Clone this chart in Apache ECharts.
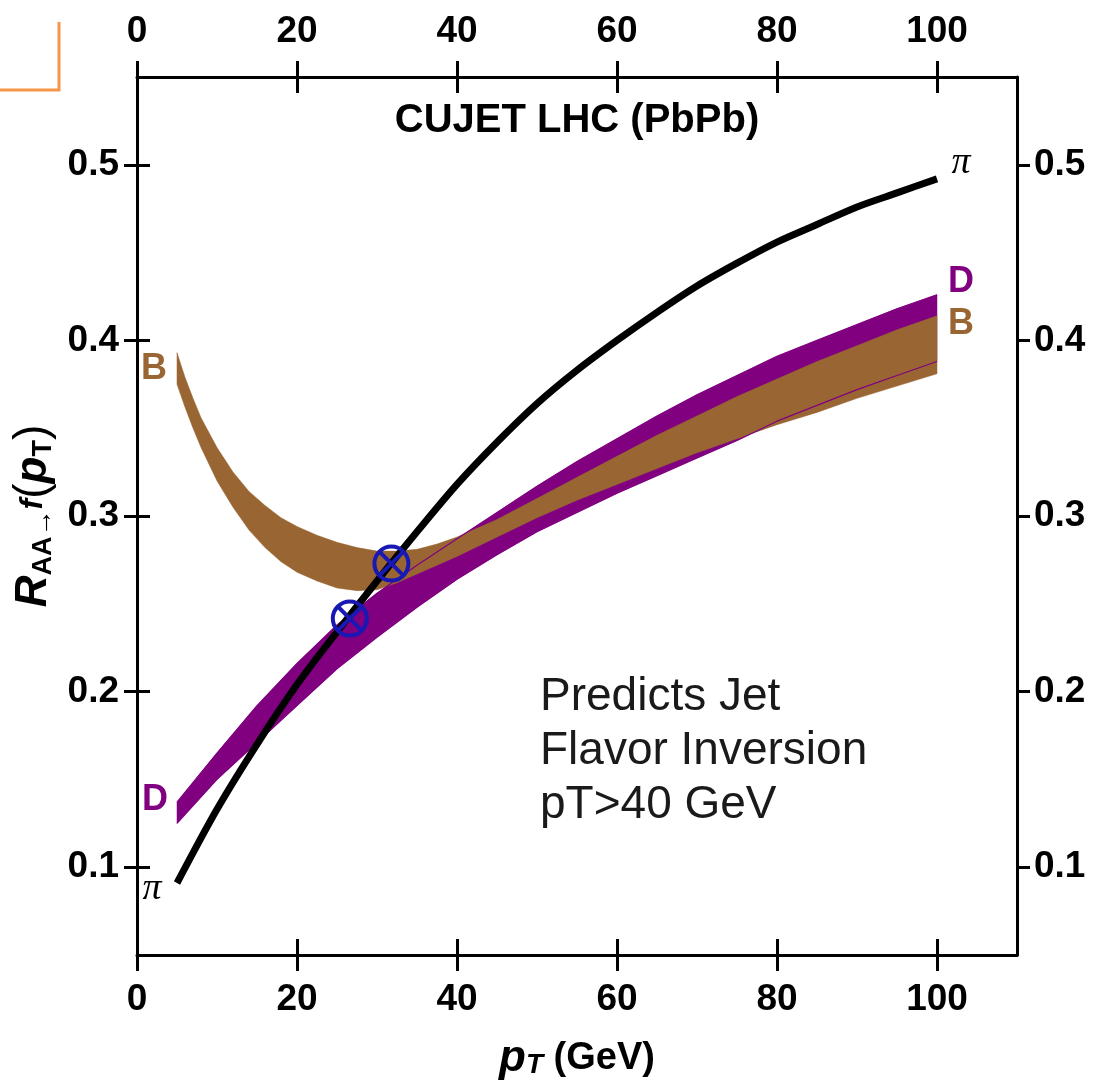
<!DOCTYPE html>
<html><head><meta charset="utf-8">
<script src="https://cdn.jsdelivr.net/npm/echarts@6/dist/echarts.min.js"></script>
<style>html,body{margin:0;padding:0;background:#fff}#c{width:1094px;height:1080px}</style>
</head><body><div id="c"></div>
<script>
// ---- tick labels ----
const xTicks = [0, 20, 40, 60, 80, 100];
const yTicks = [0.1, 0.2, 0.3, 0.4, 0.5];

// ---- pion (black curve) ----
const ptPi  = [5, 10, 15, 20, 25, 30, 35, 40, 45, 50, 55, 60, 65, 70, 75, 80, 85, 90, 95, 100];
const raaPi = [0.091, 0.133, 0.170, 0.204, 0.234, 0.263, 0.291, 0.318, 0.342, 0.364, 0.383, 0.400, 0.416, 0.431, 0.444, 0.456, 0.466, 0.476, 0.484, 0.492];

// ---- D meson band (purple) ----
const ptD    = [5, 10, 15, 20, 25, 30, 35, 40, 45, 50, 55, 60, 65, 70, 75, 80, 85, 90, 95, 100];
const raaDLo = [0.125, 0.150, 0.171, 0.192, 0.213, 0.231, 0.248, 0.264, 0.278, 0.291, 0.302, 0.313, 0.323, 0.333, 0.343, 0.354, 0.363, 0.372, 0.380, 0.388];
const raaDHi = [0.137, 0.165, 0.192, 0.216, 0.238, 0.256, 0.272, 0.287, 0.302, 0.317, 0.331, 0.344, 0.357, 0.369, 0.380, 0.391, 0.400, 0.409, 0.418, 0.426];

// ---- B meson band (brown) ----
const ptB    = [5, 6, 7, 8, 10, 12, 14, 16, 18, 20, 22.5, 25, 27.5, 30, 32.5, 35, 37.5, 40, 45, 50, 55, 60, 65, 70, 75, 80, 85, 90, 95, 100];
const raaBLo = [0.375, 0.362, 0.350, 0.339, 0.320, 0.305, 0.292, 0.282, 0.274, 0.268, 0.263, 0.259, 0.2575, 0.258, 0.262, 0.267, 0.272, 0.277, 0.288, 0.299, 0.309, 0.318, 0.327, 0.336, 0.344, 0.352, 0.359, 0.367, 0.374, 0.381];
const raaBHi = [0.393, 0.379, 0.367, 0.356, 0.339, 0.325, 0.314, 0.306, 0.299, 0.294, 0.289, 0.285, 0.282, 0.280, 0.280, 0.281, 0.284, 0.288, 0.298, 0.310, 0.322, 0.334, 0.346, 0.357, 0.368, 0.378, 0.388, 0.397, 0.406, 0.414];

// ---- flavor-inversion crossing markers ----
const crossPt  = [26.6, 31.8];
const crossRaa = [0.2416, 0.2729];

// ---- texts ----
const titleText = 'CUJET LHC (PbPb)';
const noteText = 'Predicts Jet\nFlavor Inversion\npT>40 GeV';

const PURPLE = '#800080', BROWN = '#996633', BLUE = '#1818b4';
const SANS = '"Liberation Sans", Arial, Helvetica, sans-serif';
const SERIF = '"Liberation Serif", "Times New Roman", serif';

const zip = (a, b) => a.map((v, i) => [v, b[i]]);
const last = a => a[a.length - 1];

// curve-end labels anchored on the data ends
const endLabels = [
  { t: 'π', x: last(ptPi), y: last(raaPi), c: '#000', serif: true, off: [24, -16] },
  { t: 'D', x: last(ptD), y: last(raaDHi), c: PURPLE, off: [24, -13] },
  { t: 'B', x: last(ptB), y: last(raaBHi), c: BROWN, off: [24, 8] },
  { t: 'π', x: ptPi[0], y: raaPi[0], c: '#000', serif: true, off: [-25, 6] },
  { t: 'D', x: ptD[0], y: (raaDLo[0] + raaDHi[0]) / 2, c: PURPLE, off: [-22, -13] },
  { t: 'B', x: ptB[0], y: (raaBLo[0] + raaBHi[0]) / 2, c: BROWN, off: [-23, 1] }
];

const axisLine = { show: true, onZero: false, lineStyle: { color: '#000', width: 3 } };
const lblStyle = { color: '#000', fontSize: 37, fontWeight: 'bold', fontFamily: SANS };

function xAx(pos, grid, inside, withLabel, extra) {
  return Object.assign({
    type: 'value', gridIndex: grid, position: pos, min: 0, max: 110,
    axisLine: grid === 0 ? axisLine : { show: false },
    axisTick: { show: true, inside: inside, length: 16, customValues: xTicks, lineStyle: { color: '#000', width: 3 } },
    axisLabel: withLabel ? Object.assign({ customValues: xTicks, margin: pos === 'top' ? 27 : 26 }, lblStyle) : { show: false },
    splitLine: { show: false }
  }, extra || {});
}
function yAx(pos, grid, inside, withLabel, extra) {
  return Object.assign({
    type: 'value', gridIndex: grid, position: pos, min: 0.05, max: 0.55,
    axisLine: grid === 0 ? axisLine : { show: false },
    axisTick: { show: true, inside: inside, length: 13, customValues: yTicks, lineStyle: { color: '#000', width: 3 } },
    axisLabel: withLabel ? Object.assign({ customValues: yTicks, margin: pos === 'left' ? 18 : 17, formatter: v => (+v).toFixed(1) }, lblStyle) : { show: false },
    splitLine: { show: false }
  }, extra || {});
}

function bandSeries(name, xs, lo, hi, color) {
  return {
    type: 'custom', name: name, data: [[xs[0], lo[0]]], silent: true, z: 2,
    renderItem: function (params, api) {
      const pts = [];
      for (let i = 0; i < xs.length; i++) pts.push(api.coord([xs[i], hi[i]]));
      for (let i = xs.length - 1; i >= 0; i--) pts.push(api.coord([xs[i], lo[i]]));
      return { type: 'polygon', shape: { points: pts }, style: { fill: color, stroke: color, lineWidth: 0.5 } };
    }
  };
}

const gridBox = { left: 137, right: 77, top: 77, bottom: 125, outerBoundsMode: 'none', containLabel: false };

const option = {
  backgroundColor: '#fff',
  animation: false,
  grid: [Object.assign({}, gridBox), Object.assign({}, gridBox)],
  xAxis: [
    xAx('bottom', 0, false, true, {
      name: '{p|p}{s|T}{g| (GeV)}', nameLocation: 'middle', nameGap: 84,
      nameTextStyle: {
        color: '#000',
        rich: {
          p: { fontSize: 44, fontStyle: 'italic', fontWeight: 'bold', fontFamily: SANS, color: '#000', lineHeight: 40 },
          s: { fontSize: 28, fontStyle: 'italic', fontWeight: 'bold', fontFamily: SANS, color: '#000', lineHeight: 22, verticalAlign: 'bottom' },
          g: { fontSize: 38, fontWeight: 'bold', fontFamily: SANS, color: '#000', lineHeight: 40 }
        }
      }
    }),
    xAx('top', 0, false, true),
    xAx('bottom', 1, true, false),
    xAx('top', 1, true, false)
  ],
  yAxis: [
    yAx('left', 0, false, true, {
      name: '{r|R}{s|AA→}{f|f}{q|(}{p|p}{s|T}{q|)}', nameLocation: 'middle', nameGap: 77, nameRotate: 90,
      nameTextStyle: {
        color: '#000',
        rich: {
          r: { fontSize: 44, fontStyle: 'italic', fontWeight: 'bold', fontFamily: SANS, color: '#000', lineHeight: 46 },
          s: { fontSize: 27, fontWeight: 'bold', fontFamily: SANS, color: '#000', lineHeight: 22, verticalAlign: 'bottom' },
          f: { fontSize: 32, fontStyle: 'italic', fontWeight: 'bold', fontFamily: SANS, color: '#000', lineHeight: 46 },
          q: { fontSize: 46, fontFamily: SANS, color: '#000', lineHeight: 46 },
          p: { fontSize: 44, fontStyle: 'italic', fontWeight: 'bold', fontFamily: SANS, color: '#000', lineHeight: 46 }
        }
      }
    }),
    yAx('right', 0, false, true),
    yAx('left', 1, true, false),
    yAx('right', 1, true, false)
  ],
  series: [
    bandSeries('Dband', ptD, raaDLo, raaDHi, PURPLE),
    bandSeries('Bband', ptB, raaBLo, raaBHi, BROWN),
    // D band outline drawn over the B band
    { type: 'line', name: 'DLo', data: zip(ptD, raaDLo), smooth: false, symbol: 'none', z: 3, lineStyle: { width: 1.2, color: PURPLE }, silent: true },
    { type: 'line', name: 'DHi', data: zip(ptD, raaDHi), smooth: false, symbol: 'none', z: 3, lineStyle: { width: 1.2, color: PURPLE }, silent: true },
    // pion curve
    { type: 'line', name: 'pi', data: zip(ptPi, raaPi), smooth: 0.3, symbol: 'none', z: 4, lineStyle: { width: 7, color: '#000', cap: 'butt' }, silent: true },
    // crossing markers
    {
      type: 'custom', name: 'cross', data: zip(crossPt, crossRaa), silent: true, z: 5,
      renderItem: function (params, api) {
        const p = api.coord([api.value(0), api.value(1)]);
        const r = 17, d = r * 0.7071;
        return {
          type: 'group', children: [
            { type: 'circle', shape: { cx: p[0], cy: p[1], r: r }, style: { stroke: BLUE, lineWidth: 4, fill: null } },
            { type: 'line', shape: { x1: p[0] - d, y1: p[1] - d, x2: p[0] + d, y2: p[1] + d }, style: { stroke: BLUE, lineWidth: 4 } },
            { type: 'line', shape: { x1: p[0] - d, y1: p[1] + d, x2: p[0] + d, y2: p[1] - d }, style: { stroke: BLUE, lineWidth: 4 } }
          ]
        };
      }
    },
    // curve-end labels
    {
      type: 'scatter', name: 'labels', symbolSize: 0, silent: true, z: 6,
      itemStyle: { opacity: 1 },
      labelLayout: { hideOverlap: false },
      data: endLabels.map(l => ({
        value: [l.x, l.y],
        label: {
          show: true, formatter: l.t, position: l.off, color: l.c, opacity: 1,
          fontSize: l.serif ? 38 : 36, fontWeight: l.serif ? 'normal' : 'bold', fontStyle: l.serif ? 'italic' : 'normal',
          fontFamily: l.serif ? SERIF : SANS, align: 'center', verticalAlign: 'middle'
        }
      }))
    }
  ],
  graphic: [
    { type: 'polyline', z: 100, shape: { points: [[0, 90], [59, 90], [59, 22]] }, style: { stroke: '#f79646', lineWidth: 3, fill: null } },
    { type: 'text', z: 100, x: 577, y: 121, style: { text: titleText, fill: '#000', fontSize: 40, fontWeight: 'bold', fontFamily: SANS, align: 'center', verticalAlign: 'middle' } },
    { type: 'text', z: 100, x: 540, y: 670, style: { text: noteText, fill: '#1a1a1a', fontSize: 46, fontFamily: SANS, lineHeight: 54, align: 'left', verticalAlign: 'top' } }
  ]
};

const chart = echarts.init(document.getElementById('c'), null, { renderer: 'canvas', width: 1094, height: 1080 });
chart.setOption(option);
</script>
</body></html>
